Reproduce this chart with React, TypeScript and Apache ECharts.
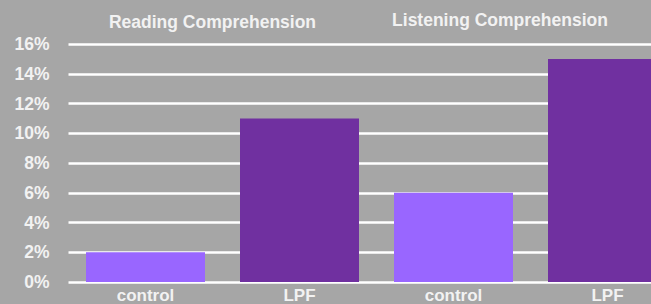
import React, { useEffect, useRef } from "react";
import * as echarts from "echarts";

const categories = ["control", "LPF", "control", "LPF"];
const values = [2, 11, 6, 15];
const barColors = ["#9966ff", "#7030a0", "#9966ff", "#7030a0"];
const groupTitles = ["Reading Comprehension", "Listening Comprehension"];
const yTicks = { min: 0, max: 16, interval: 2 };

export default function App() {
  const ref = useRef<HTMLDivElement>(null);
  useEffect(() => {
    document.body.style.margin = "0";
    const chart = echarts.init(ref.current!, null, { renderer: "svg" });
    const font = "'Liberation Sans', Arial, sans-serif";
    chart.setOption({
      animation: false,
      backgroundColor: "#a6a6a6",
      grid: { left: 68.5, right: 15.5, top: 44, bottom: 21 },
      xAxis: {
        type: "category",
        data: categories,
        axisLine: { show: false },
        axisTick: { show: false },
        axisLabel: {
          color: "#f2f2f2",
          fontSize: 17,
          fontWeight: "bold",
          fontFamily: font,
          margin: 5,
        },
      },
      yAxis: {
        type: "value",
        min: yTicks.min,
        max: yTicks.max,
        interval: yTicks.interval,
        axisLine: { show: false },
        axisTick: { show: false },
        axisLabel: {
          formatter: "{value}%",
          color: "#f2f2f2",
          fontSize: 17.5,
          fontWeight: "bold",
          fontFamily: font,
          margin: 19,
        },
        splitLine: { lineStyle: { color: "#ffffff", width: 2.5 } },
      },
      graphic: [
        {
          type: "text",
          x: 212.5,
          y: 22,
          style: {
            text: groupTitles[0],
            fill: "#f2f2f2",
            font: `bold 17.5px ${font}`,
            textAlign: "center",
            textVerticalAlign: "middle",
          },
        },
        {
          type: "text",
          x: 500,
          y: 20,
          style: {
            text: groupTitles[1],
            fill: "#f2f2f2",
            font: `bold 17.5px ${font}`,
            textAlign: "center",
            textVerticalAlign: "middle",
          },
        },
      ],
      series: [
        {
          type: "bar",
          barWidth: 119,
          data: values.map((v, i) => ({ value: v, itemStyle: { color: barColors[i] } })),
        },
      ],
    });
    return () => chart.dispose();
  }, []);
  return (
    <div style={{ position: "fixed", left: 0, top: 0, width: 651, height: 304, overflow: "hidden" }}>
      <div ref={ref} style={{ width: 700, height: 304 }} />
    </div>
  );
}
